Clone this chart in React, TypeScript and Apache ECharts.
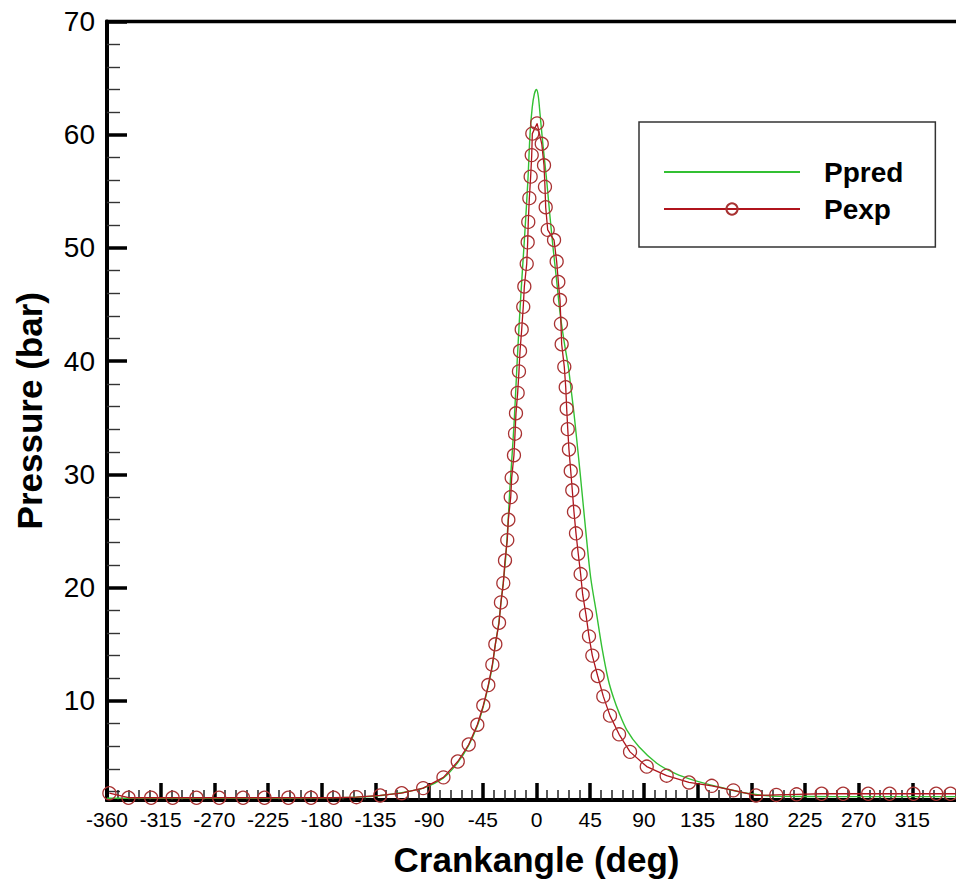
import React, { useEffect, useRef } from 'react';
import * as echarts from 'echarts';

// Ppred (model) curve, crank angle in deg / pressure in bar
const ppredAngle = [
  -360, -300, -240, -180, -150, -130, -113, -95, -78, -66, -57, -49.6, -44.6, -40.4, -37, -34.5,
  -31.6, -29.8, -27.8, -25.8, -24, -22.4, -20.6, -18.8, -17.4, -16, -13.6, -11.7, -9.8, -7.2,
  -5.4, -3.6, -1.8, 0, 1.5, 2.9, 5.6, 8.5, 11.1, 13.8, 16.8, 19.7, 23.2, 26.7, 29, 31.4, 34,
  36.5, 39, 41.5, 45.4, 50.5, 54.7, 60.2, 64.5, 69.4, 75.6, 85.9, 100.8, 116.1, 131.4, 151,
  176.2, 204, 250, 300, 360,
];
const ppredPressure = [
  1.4, 1.4, 1.4, 1.42, 1.5, 1.65, 1.9, 2.3, 3.2, 4.55, 6.05, 7.8, 9.5, 11.3, 13.1, 15.0,
  16.9, 18.7, 20.5, 22.7, 25.5, 28.6, 31.5, 34.5, 37.4, 40.4, 45.0, 48.2, 51.3, 56.0,
  60.1, 62.4, 63.6, 64.0, 63.4, 61.9, 58.9, 56.0, 53.0, 50.1, 47.2, 44.3, 41.7, 39.5, 37.5, 35.4, 32.8,
  30.2, 27.5, 24.8, 20.9, 17.6, 14.8, 11.85, 10.3, 8.9, 7.45, 5.95, 4.5, 3.6, 3.0, 2.45,
  1.85, 1.57, 1.55, 1.55, 1.55,
];

// Pexp (measured) points
const pexpAngle = [
  -358, -342, -323, -305, -285, -266, -246, -228, -208, -189, -170, -151, -131, -113, -95, -78,
  -66, -56.8, -49.6, -44.6, -40.4, -37, -34.5, -31.4, -29.8, -27.8, -26.4, -24.5, -23.6, -21.6,
  -20.8, -18.9, -18, -17.2, -15.8, -14.7, -13.8, -12.4, -11.1, -10.2, -8.2, -7.4, -6.9, -6.0,
  -4.9, -4.0, -3.5, 0.5, 4.4, 6.3, 7.1, 7.7, 9.4, 14.7, 16.9, 18.3, 19.7, 20.5, 21.1, 23.3,
  24.5, 25.3, 26.2, 27.2, 28.7, 30.0, 31.4, 33.1, 35.0, 37.0, 38.7, 41.5, 44.0, 46.8, 51.3,
  56.0, 61.6, 69.2, 78.4, 92.4, 109.1, 127.8, 146.9, 165, 184, 201, 218, 239, 257, 278, 296,
  316, 335, 347, 360,
];
const pexpPressure = [
  1.85, 1.45, 1.45, 1.45, 1.45, 1.45, 1.45, 1.45, 1.45, 1.45, 1.45, 1.5, 1.65, 1.85, 2.3, 3.25,
  4.65, 6.15, 7.9, 9.6, 11.4, 13.2, 15.0, 16.9, 18.7, 20.4, 22.4, 24.2, 26.0, 28.0,
  29.7, 31.7, 33.6, 35.4, 37.2, 39.1, 40.9, 42.8, 44.8, 46.6, 48.6, 50.5, 52.3, 54.4,
  56.3, 58.2, 60.1, 61.0, 59.2, 57.3, 55.4, 53.6, 51.6, 50.7, 48.8, 47.0, 45.4, 43.3, 41.5, 39.5,
  37.7, 35.8, 34.0, 32.2, 30.3, 28.6, 26.7, 24.8, 23.0, 21.2, 19.4, 17.6, 15.7, 14.0, 12.2,
  10.4, 8.7, 7.05, 5.5, 4.2, 3.4, 2.8, 2.5, 2.1, 1.65, 1.7, 1.75, 1.8, 1.8, 1.8, 1.8,
  1.8, 1.8, 1.8, 1.8,
];

const yMajorTicks = [10, 20, 30, 40, 50, 60, 70];
const yMinorTicks = [
  2, 4, 6, 8, 12, 14, 16, 18, 22, 24, 26, 28, 32, 34, 36, 38, 42, 44, 46, 48, 52, 54, 56, 58,
  62, 64, 66, 68,
];

const FONT = '"Liberation Sans", Arial, Helvetica, sans-serif';

export default function App() {
  const ref = useRef<HTMLDivElement>(null);

  useEffect(() => {
    if (!ref.current) return;
    const chart = echarts.init(ref.current, undefined, { renderer: 'svg' });
    const ppred = ppredAngle.map((a, i) => [a, ppredPressure[i]]);
    const pexp = pexpAngle.map((a, i) => [a, pexpPressure[i]]);

    chart.setOption({
      animation: false,
      backgroundColor: '#ffffff',
      grid: {
        left: 107,
        top: 21.5,
        right: -10,
        bottom: 80,
        show: true,
        borderColor: '#000',
        borderWidth: 3.5,
        backgroundColor: 'transparent',
        outerBoundsMode: 'none',
        containLabel: false,
      },
      legend: {
        data: ['Ppred', 'Pexp'],
        orient: 'vertical',
        left: 639,
        top: 122,
        itemWidth: 136,
        itemHeight: 14,
        itemGap: 9,
        padding: [36, 32, 24, 24],
        borderColor: '#333',
        borderWidth: 1.5,
        backgroundColor: '#fff',
        selectedMode: false,
        textStyle: {
          fontSize: 28,
          fontWeight: 'bold',
          color: '#000',
          fontFamily: FONT,
          padding: [0, 0, 0, 19],
        },
      },
      xAxis: {
        type: 'value',
        min: -360,
        max: 360,
        interval: 45,
        position: 'bottom',
        name: 'Crankangle (deg)',
        nameLocation: 'middle',
        nameGap: 42,
        nameTextStyle: { fontSize: 35, fontWeight: 'bold', color: '#000', fontFamily: FONT },
        axisLine: { show: true, onZero: false, lineStyle: { color: '#000', width: 4 } },
        axisTick: { show: true, inside: true, length: 17, lineStyle: { color: '#000', width: 3.5 } },
        minorTick: { show: true, splitNumber: 5, length: 10, lineStyle: { color: '#222', width: 1.5 } },
        axisLabel: { fontSize: 21, color: '#000', margin: 9, fontFamily: FONT, showMaxLabel: false },
        splitLine: { show: false },
      },
      yAxis: [
        {
          type: 'value',
          min: 1.25,
          max: 70,
          position: 'left',
          name: 'Pressure (bar)',
          nameLocation: 'middle',
          nameRotate: 90,
          nameGap: 60,
          nameTextStyle: { fontSize: 35, fontWeight: 'bold', color: '#000', fontFamily: FONT },
          axisLine: { show: true, onZero: false, lineStyle: { color: '#000', width: 4 } },
          axisTick: {
            show: true,
            inside: true,
            length: 20,
            customValues: yMajorTicks,
            lineStyle: { color: '#000', width: 3.5 },
          },
          axisLabel: { customValues: yMajorTicks, fontSize: 28, color: '#000', margin: 12, fontFamily: FONT },
          splitLine: { show: false },
        },
        {
          type: 'value',
          min: 1.25,
          max: 70,
          position: 'left',
          offset: 0,
          axisLine: { show: false, onZero: false },
          axisTick: {
            show: true,
            inside: true,
            length: 13,
            customValues: yMinorTicks,
            lineStyle: { color: '#333', width: 1.4 },
          },
          axisLabel: { show: false },
          splitLine: { show: false },
        },
      ],
      series: [
        {
          name: 'Ppred',
          type: 'line',
          data: ppred,
          symbol: 'circle',
          showSymbol: false,
          smooth: 0.3,
          color: '#33c033',
          itemStyle: { color: 'rgba(255,255,255,0)', borderWidth: 0 },
          lineStyle: { color: '#33c033', width: 1.4 },
          z: 2,
        },
        {
          name: 'Pexp',
          type: 'line',
          data: pexp,
          symbol: 'circle',
          symbolSize: 13,
          color: '#b51c1c',
          itemStyle: { color: 'rgba(255,255,255,0)', borderColor: '#a83232', borderWidth: 1.3 },
          lineStyle: { color: '#b0141c', width: 1.3 },
          z: 3,
        },
      ],
    });

    return () => chart.dispose();
  }, []);

  return (
    <div
      ref={ref}
      style={{ position: 'fixed', left: 0, top: 0, width: 956, height: 880, background: '#fff' }}
    />
  );
}
